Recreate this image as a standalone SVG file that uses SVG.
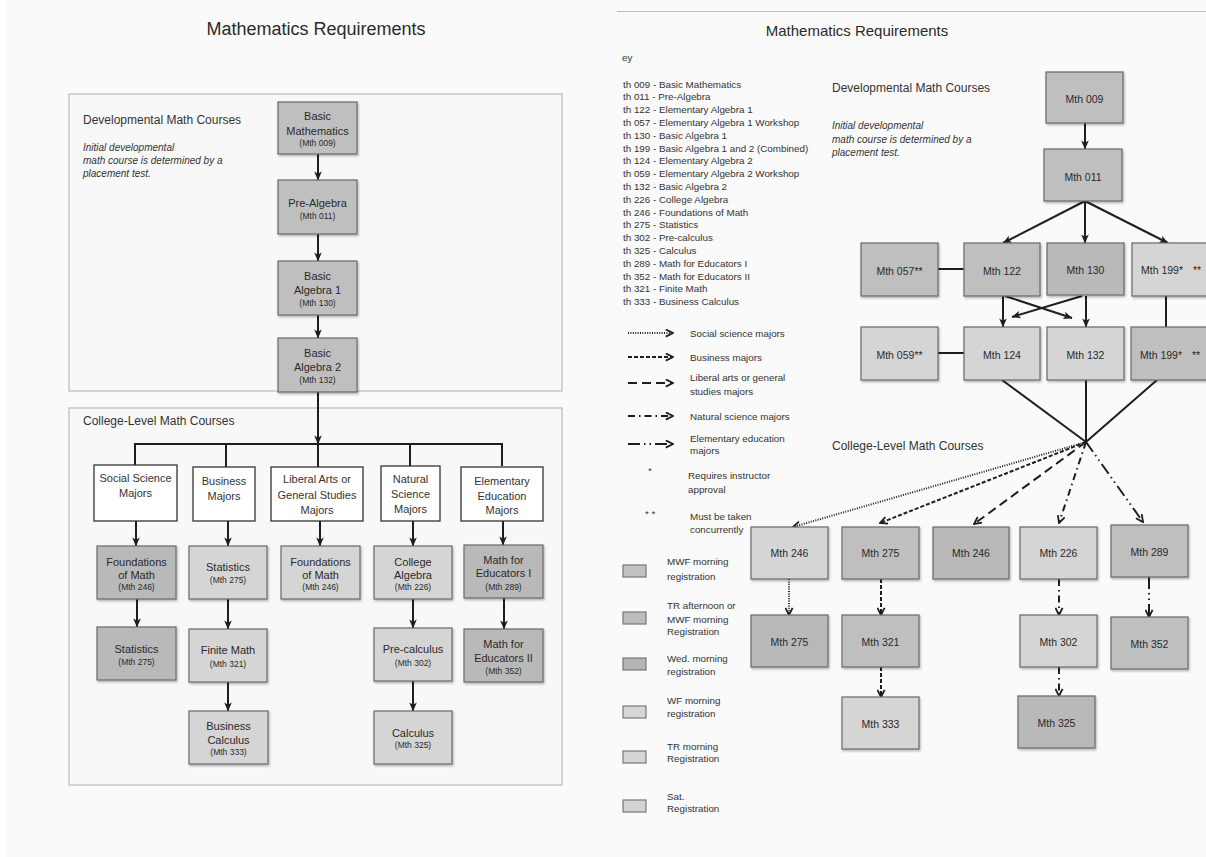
<svg xmlns="http://www.w3.org/2000/svg" width="1206" height="857" viewBox="0 0 1206 857">
<style>
text{font-family:"Liberation Sans",Arial,sans-serif;fill:#2a2a2a}
.t18{font-size:18px}
.t15{font-size:15px}
.h{font-size:12px;fill:#333}
.it{font-size:10px;font-style:italic;fill:#333}
.k{font-size:9.8px;fill:#333}
.nm{font-size:11px;text-anchor:middle}
.ns{font-size:8.5px;text-anchor:middle}
.mj{font-size:11px;text-anchor:middle;fill:#333}
.rn{font-size:10.5px;text-anchor:middle}
.box{stroke:#6a6a6a;stroke-width:1.2;filter:url(#sh)}
.dk{fill:#b9b9b9}
.md{fill:#bfbfbf}
.lt{fill:#d5d5d5}
.wh{fill:#ffffff;stroke:#333;stroke-width:1.3}
.panel{fill:#f8f8f8;stroke:#c6c6c6;stroke-width:1.5}
.s{fill:none;stroke:#1e1e1e;stroke-width:2}
.sa{fill:none;stroke:#1e1e1e;stroke-width:2;marker-end:url(#ah)}
.d1{fill:none;stroke:#1e1e1e;stroke-width:2;stroke-dasharray:1 1.4;marker-end:url(#oh)}
.d2{fill:none;stroke:#1e1e1e;stroke-width:2;stroke-dasharray:4 2;marker-end:url(#oh)}
.d3{fill:none;stroke:#1e1e1e;stroke-width:2;stroke-dasharray:9 5;marker-end:url(#oh)}
.d4{fill:none;stroke:#1e1e1e;stroke-width:2;stroke-dasharray:7 4 1.5 4;marker-end:url(#oh)}
.d5{fill:none;stroke:#1e1e1e;stroke-width:2;stroke-dasharray:12 4 1.5 4 1.5 4;marker-end:url(#oh)}
.sw{stroke:#777;stroke-width:1.2}
</style>
<defs>
<filter id="sh" x="-10%" y="-10%" width="125%" height="130%">
<feDropShadow dx="1" dy="1.5" stdDeviation="0.8" flood-color="#000" flood-opacity="0.3"/>
</filter>
<marker id="ah" viewBox="0 0 10 10" refX="9.5" refY="5" markerWidth="9" markerHeight="9" markerUnits="userSpaceOnUse" orient="auto">
<path d="M0,0.8 L10,5 L0,9.2 L2.5,5 z" fill="#1e1e1e"/>
</marker>
<marker id="oh" viewBox="0 0 10 10" refX="9" refY="5" markerWidth="9" markerHeight="9" markerUnits="userSpaceOnUse" orient="auto">
<path d="M1,1 L9,5 L1,9" fill="none" stroke="#1e1e1e" stroke-width="2"/>
</marker>
</defs>

<rect x="0" y="0" width="1206" height="857" fill="#fafafa"/>
<rect x="0" y="0" width="7" height="857" fill="#ffffff"/>

<!-- LEFT PANEL -->
<text class="t18" x="316" y="35" text-anchor="middle">Mathematics Requirements</text>
<rect class="panel" x="69" y="94" width="493" height="297"/>
<rect class="panel" x="69" y="408" width="493" height="377"/>
<text class="h" x="83" y="124">Developmental Math Courses</text>
<text class="it" x="83" y="151">Initial developmental</text>
<text class="it" x="83" y="164">math course is determined by a</text>
<text class="it" x="83" y="177">placement test.</text>
<text class="h" x="83" y="425">College-Level Math Courses</text>

<g id="left-connectors">
<path class="sa" d="M318,154 V180"/>
<path class="sa" d="M318,234 V261"/>
<path class="sa" d="M318,315 V338"/>
<path class="sa" d="M318,392 V444"/>
<path class="s" d="M135,466 V444 H502 V466 M226,444 V467 M318,444 V467 M410,444 V466"/>
<path class="sa" d="M136,521 V546"/>
<path class="sa" d="M228,521 V546"/>
<path class="sa" d="M320,521 V546"/>
<path class="sa" d="M413,521 V546"/>
<path class="sa" d="M503,521 V545"/>
<path class="sa" d="M137,599 V627"/>
<path class="sa" d="M228,599 V629"/>
<path class="sa" d="M228,682 V711"/>
<path class="sa" d="M413,599 V628"/>
<path class="sa" d="M413,681 V711"/>
<path class="sa" d="M504,598 V629"/>
</g>

<g id="L009"><rect class="box md" x="278" y="102" width="79" height="52"/>
<text class="nm" x="317.5" y="120">Basic</text><text class="nm" x="317.5" y="135">Mathematics</text><text class="ns" x="317.5" y="146">(Mth 009)</text></g>
<g id="L011"><rect class="box md" x="278" y="180" width="79" height="54"/>
<text class="nm" x="317.5" y="207">Pre-Algebra</text><text class="ns" x="317.5" y="219">(Mth 011)</text></g>
<g id="L130"><rect class="box md" x="278" y="261" width="79" height="54"/>
<text class="nm" x="317.5" y="280">Basic</text><text class="nm" x="317.5" y="294">Algebra 1</text><text class="ns" x="317.5" y="306">(Mth 130)</text></g>
<g id="L132"><rect class="box md" x="278" y="338" width="79" height="54"/>
<text class="nm" x="317.5" y="357">Basic</text><text class="nm" x="317.5" y="371">Algebra 2</text><text class="ns" x="317.5" y="383">(Mth 132)</text></g>

<g id="M-social"><rect class="wh" x="94" y="465" width="83" height="56"/>
<text class="mj" x="135.5" y="482">Social Science</text><text class="mj" x="135.5" y="497">Majors</text></g>
<g id="M-business"><rect class="wh" x="193" y="467" width="62" height="54"/>
<text class="mj" x="224" y="485">Business</text><text class="mj" x="224" y="500">Majors</text></g>
<g id="M-liberal"><rect class="wh" x="271" y="467" width="92" height="54"/>
<text class="mj" x="317" y="483">Liberal Arts or</text><text class="mj" x="317" y="499">General Studies</text><text class="mj" x="317" y="514">Majors</text></g>
<g id="M-natural"><rect class="wh" x="381" y="466" width="59" height="55"/>
<text class="mj" x="410.5" y="483">Natural</text><text class="mj" x="410.5" y="498">Science</text><text class="mj" x="410.5" y="513">Majors</text></g>
<g id="M-elem"><rect class="wh" x="461" y="467" width="82" height="54"/>
<text class="mj" x="502" y="485">Elementary</text><text class="mj" x="502" y="500">Education</text><text class="mj" x="502" y="514">Majors</text></g>

<g id="L246a"><rect class="box dk" x="97" y="546" width="79" height="53"/>
<text class="nm" x="136.5" y="566">Foundations</text><text class="nm" x="136.5" y="579">of Math</text><text class="ns" x="136.5" y="590">(Mth 246)</text></g>
<g id="L275a"><rect class="box lt" x="189" y="546" width="78" height="53"/>
<text class="nm" x="228" y="571">Statistics</text><text class="ns" x="228" y="583">(Mth 275)</text></g>
<g id="L246b"><rect class="box lt" x="281" y="546" width="79" height="53"/>
<text class="nm" x="320.5" y="566">Foundations</text><text class="nm" x="320.5" y="579">of Math</text><text class="ns" x="320.5" y="590">(Mth 246)</text></g>
<g id="L226"><rect class="box lt" x="374" y="546" width="78" height="53"/>
<text class="nm" x="413" y="566">College</text><text class="nm" x="413" y="579">Algebra</text><text class="ns" x="413" y="590">(Mth 226)</text></g>
<g id="L289"><rect class="box dk" x="464" y="545" width="79" height="53"/>
<text class="nm" x="503.5" y="564">Math for</text><text class="nm" x="503.5" y="577">Educators I</text><text class="ns" x="503.5" y="590">(Mth 289)</text></g>

<g id="L275b"><rect class="box dk" x="97" y="627" width="79" height="53"/>
<text class="nm" x="136.5" y="653">Statistics</text><text class="ns" x="136.5" y="665">(Mth 275)</text></g>
<g id="L321"><rect class="box lt" x="189" y="629" width="78" height="53"/>
<text class="nm" x="228" y="654">Finite Math</text><text class="ns" x="228" y="667">(Mth 321)</text></g>
<g id="L302"><rect class="box lt" x="374" y="628" width="78" height="53"/>
<text class="nm" x="413" y="653">Pre-calculus</text><text class="ns" x="413" y="666">(Mth 302)</text></g>
<g id="L352"><rect class="box dk" x="464" y="629" width="79" height="53"/>
<text class="nm" x="503.5" y="648">Math for</text><text class="nm" x="503.5" y="662">Educators II</text><text class="ns" x="503.5" y="674">(Mth 352)</text></g>

<g id="L333"><rect class="box lt" x="189" y="711" width="79" height="53"/>
<text class="nm" x="228.5" y="730">Business</text><text class="nm" x="228.5" y="744">Calculus</text><text class="ns" x="228.5" y="755">(Mth 333)</text></g>
<g id="L325"><rect class="box lt" x="374" y="711" width="78" height="53"/>
<text class="nm" x="413" y="737">Calculus</text><text class="ns" x="413" y="748">(Mth 325)</text></g>

<!-- RIGHT PANEL -->
<line x1="617" y1="11.5" x2="1206" y2="11.5" stroke="#bdbdbd" stroke-width="1"/>
<text class="t15" x="857" y="36" text-anchor="middle">Mathematics Requirements</text>
<text class="k" x="622" y="61">ey</text>
<g id="key-list" class="k">
<text class="k" x="623" y="87.5">th 009 - Basic Mathematics</text>
<text class="k" x="623" y="100.3">th 011 - Pre-Algebra</text>
<text class="k" x="623" y="113.1">th 122 - Elementary Algebra 1</text>
<text class="k" x="623" y="125.9">th 057 - Elementary Algebra 1 Workshop</text>
<text class="k" x="623" y="138.7">th 130 - Basic Algebra 1</text>
<text class="k" x="623" y="151.5">th 199 - Basic Algebra 1 and 2 (Combined)</text>
<text class="k" x="623" y="164.3">th 124 - Elementary Algebra 2</text>
<text class="k" x="623" y="177.1">th 059 - Elementary Algebra 2 Workshop</text>
<text class="k" x="623" y="189.9">th 132 - Basic Algebra 2</text>
<text class="k" x="623" y="202.7">th 226 - College Algebra</text>
<text class="k" x="623" y="215.5">th 246 - Foundations of Math</text>
<text class="k" x="623" y="228.3">th 275 - Statistics</text>
<text class="k" x="623" y="241.1">th 302 - Pre-calculus</text>
<text class="k" x="623" y="253.9">th 325 - Calculus</text>
<text class="k" x="623" y="266.7">th 289 - Math for Educators I</text>
<text class="k" x="623" y="279.5">th 352 - Math for Educators II</text>
<text class="k" x="623" y="292.3">th 321 - Finite Math</text>
<text class="k" x="623" y="305.1">th 333 - Business Calculus</text>
</g>

<g id="legend-lines">
<path class="d1" d="M628,333 H673"/>
<path class="d2" d="M628,357 H673"/>
<path class="d3" d="M628,383 H673"/>
<path class="d4" d="M628,416 H673"/>
<path class="d5" d="M628,444 H673"/>
</g>
<g id="legend-text">
<text class="k" x="690" y="336.5">Social science majors</text>
<text class="k" x="690" y="360.5">Business majors</text>
<text class="k" x="690" y="380.5">Liberal arts or general</text>
<text class="k" x="690" y="394.5">studies majors</text>
<text class="k" x="690" y="419.5">Natural science majors</text>
<text class="k" x="690" y="441.5">Elementary education</text>
<text class="k" x="690" y="453.5">majors</text>
<text class="k" x="648" y="474">*</text>
<text class="k" x="688" y="478.5">Requires instructor</text>
<text class="k" x="688" y="492.5">approval</text>
<text class="k" x="645" y="517">* *</text>
<text class="k" x="690" y="519.5">Must be taken</text>
<text class="k" x="690" y="532.5">concurrently</text>
</g>
<g id="legend-swatches">
<rect class="sw" x="623" y="565" width="23" height="12" fill="#c2c2c2"/>
<text class="k" x="667" y="564.5">MWF morning</text><text class="k" x="667" y="579.5">registration</text>
<rect class="sw" x="623" y="612" width="23" height="12" fill="#bdbdbd"/>
<text class="k" x="667" y="608.5">TR afternoon or</text><text class="k" x="667" y="622.5">MWF morning</text><text class="k" x="667" y="634.5">Registration</text>
<rect class="sw" x="623" y="658" width="23" height="12" fill="#b5b5b5"/>
<text class="k" x="667" y="661.5">Wed. morning</text><text class="k" x="667" y="674.5">registration</text>
<rect class="sw" x="623" y="706" width="23" height="12" fill="#d6d6d6"/>
<text class="k" x="667" y="703.5">WF morning</text><text class="k" x="667" y="716.5">registration</text>
<rect class="sw" x="623" y="751" width="23" height="12" fill="#d6d6d6"/>
<text class="k" x="667" y="749.5">TR morning</text><text class="k" x="667" y="761.5">Registration</text>
<rect class="sw" x="623" y="800" width="23" height="12" fill="#d3d3d3"/>
<text class="k" x="667" y="799.5">Sat.</text><text class="k" x="667" y="811.5">Registration</text>
</g>

<text class="h" x="832" y="92">Developmental Math Courses</text>
<text class="it" x="832" y="128.5">Initial developmental</text>
<text class="it" x="832" y="142.5">math course is determined by a</text>
<text class="it" x="832" y="155.5">placement test.</text>
<text class="h" x="832" y="450">College-Level Math Courses</text>

<g id="right-connectors">
<path class="sa" d="M1085,123 V149"/>
<path class="sa" d="M1085,201 L1003,243"/>
<path class="sa" d="M1085,201 V243"/>
<path class="sa" d="M1085,201 L1168,243"/>
<path class="s" d="M938,269 H964"/>
<path class="sa" d="M1003,296 V327"/>
<path class="sa" d="M1086,296 V327"/>
<path class="sa" d="M1005,296 L1072,318"/>
<path class="sa" d="M1082,296 L1012,317"/>
<path class="s" d="M1166,296 V327"/>
<path class="s" d="M938,353 H964"/>
<path class="s" d="M1002,380 L1086,442 M1086,380 V442 M1157,380 L1086,442"/>
<path class="d1" d="M1086,442 L793,527"/>
<path class="d2" d="M1086,442 L880,523"/>
<path class="d3" d="M1086,442 L974,524"/>
<path class="d4" d="M1086,442 L1059,523"/>
<path class="d5" d="M1086,442 L1143,522"/>
<path class="d1" d="M789,579 V615"/>
<path class="d2" d="M881,579 V615"/>
<path class="d2" d="M881,667 V697"/>
<path class="d4" d="M1059,579 V615"/>
<path class="d4" d="M1059,667 V696"/>
<path class="d5" d="M1149,577 V617"/>
</g>

<g id="R009"><rect class="box md" x="1046" y="72" width="77" height="51"/><text class="rn" x="1084.5" y="102.5">Mth 009</text></g>
<g id="R011"><rect class="box md" x="1044" y="149" width="78" height="52"/><text class="rn" x="1083" y="180.5">Mth 011</text></g>
<g id="R057"><rect class="box md" x="861" y="243" width="77" height="53"/><text class="rn" x="899.5" y="274.5">Mth 057**</text></g>
<g id="R122"><rect class="box md" x="964" y="243" width="76" height="53"/><text class="rn" x="1002" y="274.5">Mth 122</text></g>
<g id="R130"><rect class="box dk" x="1047" y="243" width="77" height="52"/><text class="rn" x="1085.5" y="273.5">Mth 130</text></g>
<g id="R199a"><rect class="box lt" x="1132" y="243" width="80" height="53"/><text class="rn" x="1141" y="274" text-anchor="start" style="text-anchor:start">Mth 199*<tspan x="1193">**</tspan></text></g>
<g id="R059"><rect class="box lt" x="861" y="327" width="77" height="53"/><text class="rn" x="899.5" y="358.5">Mth 059**</text></g>
<g id="R124"><rect class="box lt" x="964" y="327" width="76" height="53"/><text class="rn" x="1002" y="358.5">Mth 124</text></g>
<g id="R132"><rect class="box lt" x="1047" y="327" width="77" height="53"/><text class="rn" x="1085.5" y="358.5">Mth 132</text></g>
<g id="R199b"><rect class="box md" x="1131" y="327" width="80" height="53"/><text class="rn" x="1140" y="358.5" style="text-anchor:start">Mth 199*<tspan x="1192">**</tspan></text></g>

<g id="R246a"><rect class="box lt" x="751" y="527" width="77" height="52"/><text class="rn" x="789.5" y="556.5">Mth 246</text></g>
<g id="R275a"><rect class="box md" x="842" y="527" width="77" height="52"/><text class="rn" x="880.5" y="556.5">Mth 275</text></g>
<g id="R246b"><rect class="box dk" x="933" y="527" width="76" height="52"/><text class="rn" x="971" y="556.5">Mth 246</text></g>
<g id="R226"><rect class="box lt" x="1020" y="527" width="77" height="52"/><text class="rn" x="1058.5" y="556.5">Mth 226</text></g>
<g id="R289"><rect class="box md" x="1111" y="525" width="77" height="52"/><text class="rn" x="1149.5" y="555.5">Mth 289</text></g>
<g id="R275b"><rect class="box dk" x="751" y="615" width="77" height="52"/><text class="rn" x="789.5" y="645.5">Mth 275</text></g>
<g id="R321"><rect class="box md" x="842" y="615" width="77" height="52"/><text class="rn" x="880.5" y="645.5">Mth 321</text></g>
<g id="R302"><rect class="box lt" x="1020" y="615" width="77" height="52"/><text class="rn" x="1058.5" y="645.5">Mth 302</text></g>
<g id="R352"><rect class="box md" x="1111" y="617" width="77" height="52"/><text class="rn" x="1149.5" y="647.5">Mth 352</text></g>
<g id="R333"><rect class="box lt" x="842" y="697" width="77" height="52"/><text class="rn" x="880.5" y="727.5">Mth 333</text></g>
<g id="R325"><rect class="box dk" x="1018" y="696" width="77" height="52"/><text class="rn" x="1056.5" y="726.5">Mth 325</text></g>
</svg>
